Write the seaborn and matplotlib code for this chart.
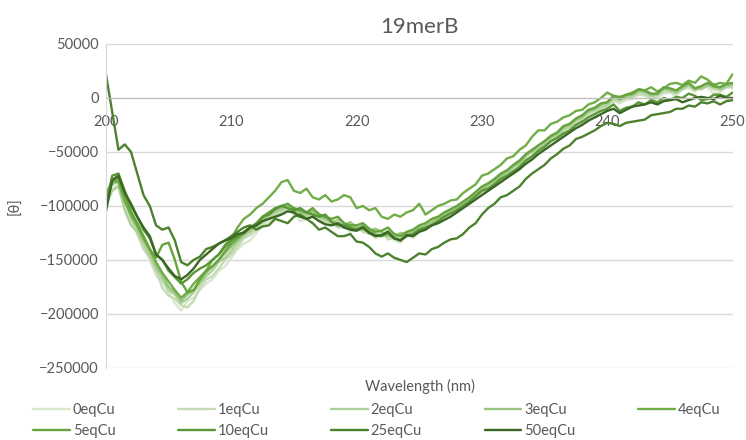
import pandas as pd
import numpy as np
import matplotlib
matplotlib.use('Agg')
import matplotlib.pyplot as plt
import seaborn as sns

# longitud de onda (nm), paso de 0.5 nm
wavelength = np.arange(200, 250.5, 0.5)

# [θ] en miles (200 ... 250 nm)
eq_0 = [-95, -84, -80, -100, -115, -122, -138, -150, -165, -170,
        -180, -190, -197, -188, -185, -178, -172, -168, -160, -156,
        -148, -140, -135, -132, -125, -118, -115, -112, -108, -104,
        -106, -114, -112, -106, -110, -117, -118, -112, -116, -124,
        -122, -118, -124, -130, -128, -124, -132, -134, -127, -130,
        -124, -120, -118, -116, -112, -108, -106, -101, -98, -92,
        -88, -86, -82, -76, -72, -70, -66, -58, -55, -50,
        -46, -40, -38, -33, -30, -24, -22, -16, -14, -10,
        -8, -3, -5, -2, -1, 3, 2, -1, 0, 4,
        5, 2, 8, 9, 6, 11, 10, 4, 5, 10, 9]
eq_1 = [-88, -80, -78, -96, -112, -126, -140, -148, -160, -176,
        -183, -186, -192, -194, -188, -176, -168, -165, -158, -150,
        -145, -138, -130, -127, -122, -116, -112, -108, -106, -102,
        -108, -110, -110, -108, -113, -114, -116, -120, -120, -116,
        -119, -124, -126, -122, -125, -131, -130, -126, -128, -124,
        -121, -122, -116, -112, -110, -106, -103, -100, -96, -90,
        -86, -83, -80, -74, -70, -67, -63, -57, -54, -48,
        -44, -40, -36, -30, -27, -24, -20, -14, -12, -9,
        -7, -2, -3, 0, 1, 4, 3, 0, 2, 6,
        6, 4, 9, 11, 7, 10, 12, 8, 7, 11, 10]
eq_2 = [-100, -86, -82, -104, -118, -124, -135, -146, -158, -168,
        -178, -182, -190, -186, -180, -172, -165, -160, -152, -148,
        -142, -134, -128, -124, -120, -114, -110, -106, -104, -100,
        -103, -108, -109, -104, -107, -112, -115, -113, -117, -120,
        -121, -118, -122, -126, -127, -123, -128, -131, -124, -126,
        -122, -118, -114, -112, -108, -106, -104, -99, -94, -90,
        -84, -82, -78, -73, -70, -64, -61, -54, -50, -47,
        -42, -37, -35, -29, -26, -21, -18, -13, -11, -8,
        -6, 0, -2, 1, 2, 6, 5, 2, 3, 8,
        7, 5, 8, 12, 9, 8, 11, 13, 8, 10, 12]
eq_3 = [-92, -80, -76, -94, -110, -120, -132, -142, -155, -164,
        -175, -180, -188, -182, -178, -170, -162, -156, -150, -144,
        -138, -132, -126, -122, -118, -112, -108, -104, -102, -99,
        -104, -106, -107, -105, -110, -112, -114, -116, -118, -115,
        -120, -122, -124, -121, -124, -128, -129, -125, -126, -123,
        -120, -119, -116, -111, -109, -104, -102, -97, -95, -89,
        -85, -80, -77, -72, -68, -63, -60, -53, -49, -44,
        -40, -36, -33, -27, -24, -20, -17, -12, -10, -6,
        -4, 1, 0, 2, 3, 7, 6, 3, 4, 9,
        8, 6, 10, 13, 8, 10, 13, 10, 9, 12, 13]
eq_4 = [-90, -76, -78, -96, -108, -118, -130, -140, -152, -162,
        -170, -178, -185, -180, -172, -166, -160, -150, -145, -136,
        -130, -120, -112, -108, -102, -98, -92, -86, -78, -76,
        -86, -88, -84, -92, -94, -90, -96, -94, -90, -92,
        -102, -100, -104, -102, -110, -112, -108, -110, -106, -104,
        -98, -108, -104, -100, -98, -95, -94, -88, -84, -80,
        -72, -70, -66, -62, -56, -54, -48, -44, -36, -30,
        -30, -24, -22, -18, -16, -12, -11, -6, -4, 0,
        5, 2, -1, 3, 5, 8, 7, 10, 6, 9,
        13, 14, 12, 16, 14, 20, 17, 12, 14, 13, 22]
eq_5 = [-95, -78, -74, -90, -105, -116, -128, -140, -148, -136,
        -134, -150, -170, -180, -178, -168, -160, -156, -150, -142,
        -135, -130, -125, -120, -118, -110, -106, -102, -100, -98,
        -102, -104, -106, -102, -108, -110, -112, -110, -116, -118,
        -118, -116, -121, -124, -123, -120, -126, -128, -124, -122,
        -118, -116, -112, -110, -106, -103, -100, -96, -92, -87,
        -82, -79, -75, -70, -67, -62, -58, -52, -48, -44,
        -40, -35, -32, -26, -24, -19, -16, -11, -9, -5,
        -4, 2, 1, 3, 4, 8, 7, 4, 4, 10,
        9, 7, 11, 14, 9, 11, 14, 11, 10, 13, 14]
eq_10 = [-100, -72, -70, -86, -100, -110, -122, -130, -145, -150,
         -160, -166, -172, -168, -162, -158, -155, -150, -145, -138,
         -132, -128, -124, -120, -116, -110, -108, -103, -100, -102,
         -104, -102, -106, -108, -110, -108, -115, -118, -118, -120,
         -122, -119, -124, -127, -128, -125, -130, -132, -128, -126,
         -122, -120, -118, -114, -110, -107, -104, -100, -96, -91,
         -86, -84, -80, -75, -72, -68, -64, -58, -54, -49,
         -45, -40, -37, -33, -30, -25, -22, -18, -15, -12,
         -10, -6, -12, -9, -8, -4, -6, -2, -4, 0,
         -2, 1, 0, 4, 2, -2, -1, 3, 3, 1, 5]
eq_25 = [22, -13, -48, -43, -50, -70, -90, -100, -118, -122,
         -120, -132, -152, -155, -150, -147, -140, -138, -135, -132,
         -128, -124, -120, -118, -122, -119, -118, -112, -114, -116,
         -110, -108, -112, -116, -122, -120, -124, -128, -128, -126,
         -133, -134, -138, -144, -147, -144, -148, -150, -152, -148,
         -144, -145, -140, -138, -134, -131, -130, -126, -120, -116,
         -108, -102, -98, -92, -90, -86, -82, -75, -70, -66,
         -62, -56, -52, -47, -44, -38, -36, -33, -30, -26,
         -23, -24, -26, -23, -22, -21, -20, -16, -15, -14,
         -13, -10, -10, -7, -8, -4, -5, -3, -6, -3, -2]
eq_50 = [-105, -76, -72, -88, -98, -110, -120, -128, -145, -150,
         -158, -165, -168, -164, -158, -150, -145, -140, -135, -132,
         -130, -126, -125, -120, -118, -114, -112, -110, -108, -105,
         -106, -110, -112, -110, -114, -117, -118, -116, -120, -122,
         -123, -120, -125, -128, -127, -124, -130, -132, -127, -128,
         -124, -122, -118, -116, -113, -110, -106, -102, -98, -94,
         -90, -86, -82, -78, -74, -70, -66, -61, -57, -52,
         -48, -44, -40, -36, -32, -28, -25, -21, -18, -15,
         -12, -10, -14, -11, -8, -7, -6, -4, -6, -3,
         -2, -1, -4, -2, 0, 1, 0, -1, 2, 0, 0]

labels = ['0eqCu', '1eqCu', '2eqCu', '3eqCu', '4eqCu', '5eqCu', '10eqCu', '25eqCu', '50eqCu']
series = [eq_0, eq_1, eq_2, eq_3, eq_4, eq_5, eq_10, eq_25, eq_50]
colors = ['#d9e7cf', '#c4dbb3', '#afd09c', '#99c47f', '#70ad47', '#66a43d', '#5a9636',
          '#4c822d', '#3b6623']

# Tabla larga para seaborn
df = pd.concat([pd.DataFrame({'Wavelength': wavelength, 'theta': np.array(vals) * 1000, 'sample': lab})
                for lab, vals in zip(labels, series)], ignore_index=True)

sns.set_style('white')
plt.rcParams['font.family'] = ['Lato', 'DejaVu Sans']

fig = plt.figure(figsize=(7.46, 4.40), dpi=100)
ax = fig.add_axes([0.142, 0.164, 0.84, 0.736])

sns.lineplot(data=df, x='Wavelength', y='theta', hue='sample', hue_order=labels,
             palette=dict(zip(labels, colors)), linewidth=1.7, ax=ax, legend=True)

ax.set_xlim(200, 250)
ax.set_ylim(-250000, 50000)
ax.set_yticks(range(-250000, 50001, 50000))
ax.set_xticks(range(200, 251, 10))
ax.yaxis.grid(True, color='#d9d9d9', linewidth=1)
ax.set_axisbelow(True)

for s in ['top', 'right']:
    ax.spines[s].set_visible(False)
ax.spines['bottom'].set_position(('data', 0))
ax.spines['bottom'].set_color('#bfbfbf')
ax.spines['left'].set_color('#d9d9d9')
ax.tick_params(length=0, labelsize=10.5, labelcolor='#595959')
ax.tick_params(axis='x', pad=12)
ax.tick_params(axis='y', pad=5)

ax.set_title('19merB', fontsize=16, color='#595959', pad=8)
ax.set_xlabel('')
ax.set_ylabel('[θ]', fontsize=10.5, color='#595959', labelpad=12)
fig.text(0.563, 0.111, 'Wavelength (nm)', ha='center', fontsize=10.5, color='#595959')

# Leyenda en dos filas, ordenada por filas
handles, labs = ax.get_legend_handles_labels()
ax.get_legend().remove()
order = [0, 5, 1, 6, 2, 7, 3, 8, 4]
fig.legend([handles[i] for i in order], [labs[i] for i in order], ncol=5,
           loc='lower center', bbox_to_anchor=(0.505, -0.025), frameon=False,
           fontsize=10.5, labelcolor='#595959', handlelength=2.5, handletextpad=0.2,
           columnspacing=4.3, labelspacing=0.45)

plt.savefig('out.png', dpi=100)
